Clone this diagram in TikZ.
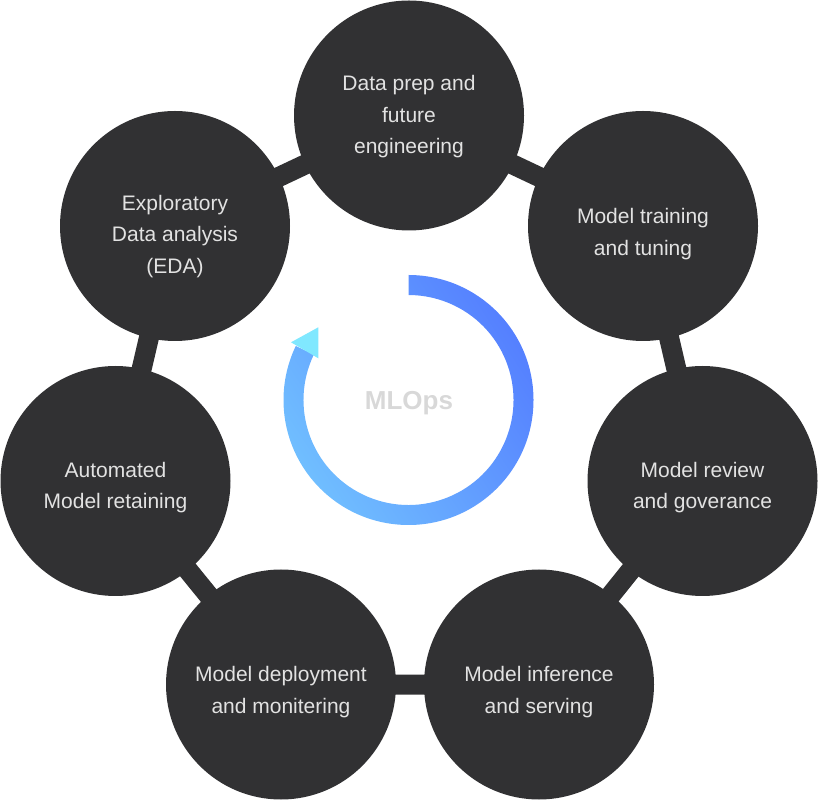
\documentclass[tikz,border=0pt]{standalone}
\usepackage{fontspec}
\setmainfont{Liberation Sans}
\usetikzlibrary{backgrounds}
\definecolor{disc}{HTML}{313133}
\definecolor{disctext}{HTML}{E2E2E2}
\definecolor{ringlight}{HTML}{70BEFF}
\definecolor{ringdark}{HTML}{5580FF}
\definecolor{tipc}{HTML}{80E8FF}
\definecolor{mlopsc}{HTML}{D8D8D8}
\begin{document}
\begin{tikzpicture}[x=1pt,y=1pt,
  stage/.style={circle, fill=disc, minimum size=230pt, inner sep=0pt},
  stagetext/.style={text=disctext, align=center, font=\fontsize{21}{31.5}\selectfont},
  link/.style={draw=disc, line width=20pt, line join=round},
  ringshade/.style={left color=ringlight, right color=ringdark, shading angle=123},
]
\useasboundingbox (0,0) rectangle (818,800);

% stages
\node[stage] (c1) at (409,684.5) {};
\node[stage] (c2) at (643,574) {};
\node[stage] (c3) at (702.5,319) {};
\node[stage] (c4) at (539,115.5) {};
\node[stage] (c5) at (281,115.5) {};
\node[stage] (c6) at (115.5,319) {};
\node[stage] (c7) at (175,574) {};

\begin{scope}[on background layer]
  \draw[link] (c1.center) -- (c2.center) -- (c3.center) -- (c4.center)
    -- (c5.center) -- (c6.center) -- (c7.center) -- cycle;
\end{scope}

\node[stagetext] (t1) at ([yshift=-1.5pt]c1) {Data prep and\\future\\engineering};
\node[stagetext] (t2) at ([yshift=-8pt]c2) {Model training\\and tuning};
\node[stagetext] (t3) at ([yshift=-6.7pt]c3) {Model review\\and goverance};
\node[stagetext] (t4) at ([yshift=-7.5pt]c4) {Model inference\\and serving};
\node[stagetext] (t5) at ([yshift=-7.5pt]c5) {Model deployment\\and monitering};
\node[stagetext] (t6) at ([yshift=-6.7pt]c6) {Automated\\Model retaining};
\node[stagetext] (t7) at ([yshift=-10.5pt]c7) {Exploratory\\Data analysis\\(EDA)};

% cycle ring
\coordinate (rc) at (408.5,400);
\shade[ringshade] ([shift={(90:125pt)}]rc)
  arc[start angle=90, end angle=-205.6, radius=125pt]
  -- ([shift={(-205.6:105pt)}]rc)
  arc[start angle=-205.6, end angle=90, radius=105pt] -- cycle;
\fill[tipc] (291,457.7) -- (318.3,472.7) -- (318.3,441.7) -- cycle;

\node[font=\fontsize{26}{30}\selectfont\bfseries, text=mlopsc, anchor=base] (mlops) at (409,390) {MLOps};
\end{tikzpicture}
\end{document}
